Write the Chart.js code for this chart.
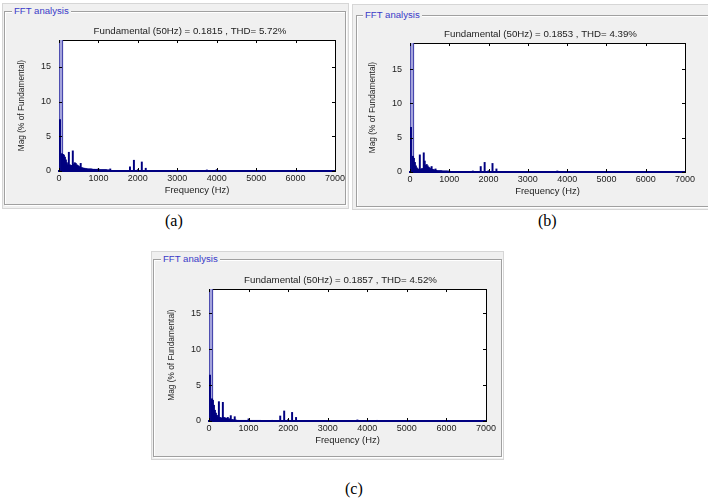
<!DOCTYPE html>
<html>
<head>
<meta charset="utf-8">
<script src="https://cdn.jsdelivr.net/npm/chart.js@4.4.1/dist/chart.umd.min.js"></script>
<style>
html, body { margin: 0; padding: 0; background: #fff; width: 708px; height: 503px; overflow: hidden; }
.panel { position: absolute; background: #f0f0f0; border: 1px solid #d6d6d6; box-sizing: border-box; }
.frame { position: absolute; border: 1px solid #a0a0a0; box-shadow: inset 1px 1px 0 #fff, 1px 1px 0 #fff; box-sizing: border-box; }
.legend { position: absolute; background: #f0f0f0; color: #3a3ac8; font: 9.6px "Liberation Sans", Arial, sans-serif; line-height: 12px; padding: 0 2px; }
.cap { position: absolute; font: 16px "Liberation Serif", "Times New Roman", serif; line-height: 20px; color: #000; }
canvas { position: absolute; }
</style>
</head>
<body>
<div class="panel" style="left:2px;top:3px;width:347px;height:206px"></div>
<div class="frame" style="left:4px;top:11px;width:342px;height:194px"></div>
<div class="legend" style="left:12px;top:5px">FFT analysis</div>

<div class="panel" style="left:352px;top:4px;width:360px;height:206px"></div>
<div class="frame" style="left:356px;top:15px;width:360px;height:192px"></div>
<div class="legend" style="left:363px;top:9px">FFT analysis</div>

<div class="panel" style="left:151px;top:251px;width:353px;height:209px"></div>
<div class="frame" style="left:153px;top:259px;width:349px;height:198px"></div>
<div class="legend" style="left:161px;top:253px">FFT analysis</div>

<canvas id="fftA" width="362" height="175" style="left:9px;top:23px"></canvas>
<canvas id="fftB" width="361" height="173" style="left:360px;top:26px"></canvas>
<canvas id="fftC" width="363" height="176" style="left:159px;top:272px"></canvas>

<div class="cap" style="left:165px;top:211px">(a)</div>
<div class="cap" style="left:538px;top:211px">(b)</div>
<div class="cap" style="left:345px;top:479px">(c)</div>

<script>
// harmonic bins (Hz)
const freqs = [0, 25,
  75, 100, 125, 150, 175, 200, 225, 250, 275, 300,
  325, 350, 375, 400, 425, 450, 475, 500, 525, 550,
  575, 600, 625, 650, 675, 700, 725, 750, 775, 800,
  825, 850, 875, 900, 925, 950, 975, 1000, 1025, 1050,
  1075, 1100, 1125, 1150, 1175, 1200, 1225, 1250, 1275, 1300,
  1600, 1800, 1900, 2000, 2100, 2200, 3750, 4000, 4250];

// magnitude, % of fundamental
const magA = [7.0, 7.4,
  2.5, 2.4, 2.3, 2.0, 1.6, 1.2, 0.9, 2.7, 0.9, 0.8,
  0.8, 2.9, 1.0, 1.2, 1.1, 0.9, 0.8, 0.7, 0.6, 1.1,
  0.5, 0.45, 0.4, 0.4, 0.35, 0.35, 0.3, 0.3, 0.3, 0.3,
  0.3, 0.25, 0.25, 0.25, 0.25, 0.25, 0.25, 0.3, 0.2, 0.2,
  0.2, 0.2, 0.2, 0.2, 0.2, 0.2, 0.15, 0.15, 0.15, 0.3,
  0.1, 0.6, 1.55, 0.2, 1.3, 0.4, 0.15, 0.2, 0];

const magB = [6.4, 6.5,
  2.3, 2.0, 1.4, 0.9, 0.6, 0.45, 0.4, 2.5, 0.4, 0.5,
  0.5, 2.8, 1.6, 1.0, 1.1, 0.9, 0.7, 0.6, 0.5, 0.8,
  0.4, 0.35, 0.3, 0.45, 0.25, 0.2, 0.2, 0.2, 0.2, 0.2,
  0.15, 0.15, 0.15, 0.15, 0.15, 0.15, 0.12, 0.15, 0.1, 0.1,
  0.1, 0.1, 0.1, 0.1, 0.1, 0.1, 0.1, 0.1, 0.1, 0.1,
  0.15, 0.8, 1.4, 0.2, 1.25, 0.45, 0.15, 0, 0];

const magC = [6.3, 6.4,
  3.1, 2.9, 2.2, 1.5, 1.1, 0.8, 0.6, 2.7, 0.5, 0.45,
  0.4, 2.6, 0.5, 0.45, 0.4, 0.35, 0.5, 0.3, 0.3, 0.75,
  0.2, 0.2, 0.15, 0.6, 0.15, 0.1, 0.1, 0.1, 0.1, 0.1,
  0.1, 0.1, 0.1, 0.1, 0.1, 0.1, 0.1, 0.3, 0.1, 0.1,
  0.1, 0.1, 0.1, 0.1, 0.1, 0.1, 0.1, 0.1, 0.1, 0.1,
  0.1, 0.7, 1.4, 0.2, 1.2, 0.5, 0.15, 0, 0.1];

// fundamental bar, runs off the top of the axes
const fundFreq = [50];
const fundMag = [100];

const titles = [
  'Fundamental (50Hz) = 0.1815 , THD= 5.72%',
  'Fundamental (50Hz) = 0.1853 , THD= 4.39%',
  'Fundamental (50Hz) = 0.1857 , THD= 4.52%'
];
const yMaxes = [18.85, 18.8, 18.4];

const FONT = '"Liberation Sans", Arial, sans-serif';
const TXT = '#222';

// white axes box + matlab style ticks pointing inward
const axesBox = {
  id: 'axesBox',
  beforeDraw(chart) {
    const { ctx, chartArea: a } = chart;
    ctx.save();
    ctx.fillStyle = '#fff';
    ctx.fillRect(a.left, a.top, a.right - a.left, a.bottom - a.top);
    ctx.restore();
  },
  afterDraw(chart) {
    const { ctx, chartArea: a, scales: { x, y } } = chart;
    ctx.save();
    ctx.strokeStyle = '#000';
    ctx.lineWidth = 1;
    ctx.beginPath();
    x.ticks.forEach(t => {
      const px = Math.round(x.getPixelForValue(t.value)) + 0.5;
      ctx.moveTo(px, a.bottom); ctx.lineTo(px, a.bottom - 3);
      ctx.moveTo(px, a.top); ctx.lineTo(px, a.top + 3);
    });
    y.ticks.forEach(t => {
      const py = Math.round(y.getPixelForValue(t.value)) + 0.5;
      ctx.moveTo(a.left, py); ctx.lineTo(a.left + 3, py);
      ctx.moveTo(a.right, py); ctx.lineTo(a.right - 3, py);
    });
    ctx.stroke();
    ctx.restore();
  }
};

function fftChart(id, mags, title, yMax) {
  const ctx = document.getElementById(id).getContext('2d');
  return new Chart(ctx, {
    type: 'bar',
    data: {
      datasets: [{
        data: freqs.map((f, i) => ({ x: f, y: mags[i] })),
        backgroundColor: '#000080',
        barThickness: 1.3
      }, {
        data: fundFreq.map((f, i) => ({ x: f, y: fundMag[i] })),
        backgroundColor: '#a4a4dc',
        borderColor: '#20209a',
        borderWidth: { left: 1, right: 1, top: 0, bottom: 0 },
        barThickness: 4
      }]
    },
    options: {
      responsive: false,
      animation: false,
      datasets: { bar: { grouped: false } },
      layout: { padding: 0 },
      plugins: {
        legend: { display: false },
        tooltip: { enabled: false },
        title: {
          display: true,
          text: title,
          color: TXT,
          font: { family: FONT, size: 9.7, weight: 'normal' },
          padding: { top: 2.4, bottom: 3 }
        }
      },
      scales: {
        x: {
          type: 'linear',
          min: 0, max: 7000,
          offset: false,
          grid: { display: false, drawTicks: false },
          border: { color: '#000080', width: 2 },
          ticks: {
            stepSize: 1000, autoSkip: false, maxRotation: 0, padding: 2,
            color: TXT, font: { family: FONT, size: 9 },
            callback: v => String(v)
          },
          title: { display: true, text: 'Frequency (Hz)', color: TXT, font: { family: FONT, size: 9.4 }, padding: { top: 0, bottom: 2 } },
          afterFit: s => { s.height = 27; }
        },
        xTop: {
          type: 'linear', position: 'top',
          min: 0, max: 7000,
          grid: { display: false },
          ticks: { display: false },
          border: { color: '#000', width: 1 },
          afterFit: s => { s.height = 0; }
        },
        y: {
          min: 0, max: yMax,
          grid: { display: false, drawTicks: false },
          border: { color: '#000', width: 1 },
          ticks: { stepSize: 5, includeBounds: false, padding: 8, color: TXT, font: { family: FONT, size: 9 } },
          title: { display: true, text: 'Mag (% of Fundamental)', color: TXT, font: { family: FONT, size: 8.3 }, padding: { top: 7.7, bottom: 0 } },
          afterFit: s => { s.width = 50; }
        },
        yRight: {
          position: 'right',
          min: 0, max: yMax,
          grid: { display: false },
          ticks: { display: false },
          border: { color: '#000', width: 1 },
          afterFit: s => { s.width = 36; }
        }
      }
    },
    plugins: [axesBox]
  });
}

fftChart('fftA', magA, titles[0], yMaxes[0]);
fftChart('fftB', magB, titles[1], yMaxes[1]);
fftChart('fftC', magC, titles[2], yMaxes[2]);
</script>
</body>
</html>
